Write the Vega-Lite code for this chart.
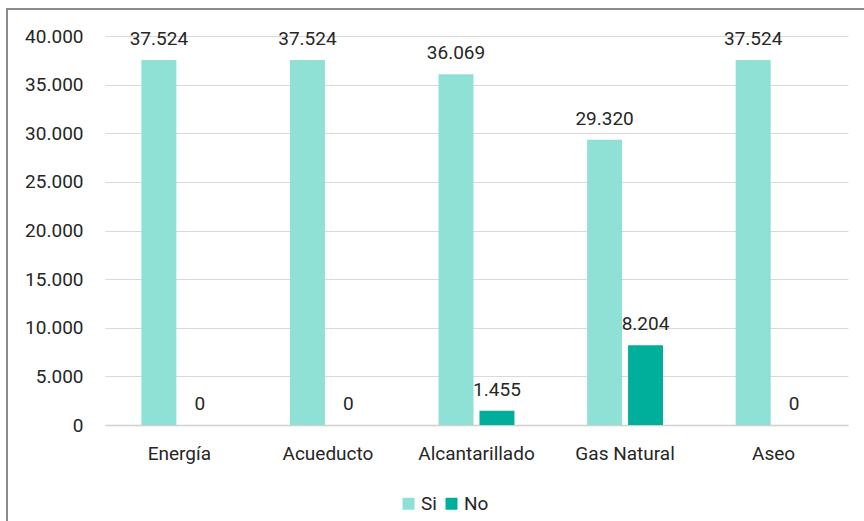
{
  "$schema": "https://vega.github.io/schema/vega-lite/v6.json",
  "width": 743,
  "height": 389,
  "autosize": "none",
  "padding": {"left": 105, "top": 36, "right": 16, "bottom": 96},
  "background": "white",
  "config": {
    "locale": {"number": {"decimal": ",", "thousands": ".", "grouping": [3], "currency": ["$", ""]}},
    "view": {"stroke": null},
    "font": "Roboto"
  },
  "datasets": {
    "servicios": [
      {"servicio": "Energía", "respuesta": "Si", "viviendas": 37524},
      {"servicio": "Energía", "respuesta": "No", "viviendas": 0},
      {"servicio": "Acueducto", "respuesta": "Si", "viviendas": 37524},
      {"servicio": "Acueducto", "respuesta": "No", "viviendas": 0},
      {"servicio": "Alcantarillado", "respuesta": "Si", "viviendas": 36069},
      {"servicio": "Alcantarillado", "respuesta": "No", "viviendas": 1455},
      {"servicio": "Gas Natural", "respuesta": "Si", "viviendas": 29320},
      {"servicio": "Gas Natural", "respuesta": "No", "viviendas": 8204},
      {"servicio": "Aseo", "respuesta": "Si", "viviendas": 37524},
      {"servicio": "Aseo", "respuesta": "No", "viviendas": 0}
    ]
  },
  "layer": [
    {
      "data": {"values": [{"frame": 1}]},
      "mark": {"type": "rect", "fill": null, "stroke": "#8c8c8c", "strokeWidth": 2},
      "encoding": {
        "x": {"value": -98},
        "x2": {"value": 780},
        "y": {"value": -27},
        "y2": {"value": 500}
      }
    },
    {
      "data": {"name": "servicios"},
      "encoding": {
        "x": {
          "field": "servicio",
          "type": "nominal",
          "sort": ["Energía", "Acueducto", "Alcantarillado", "Gas Natural", "Aseo"],
          "scale": {"paddingInner": 0.489, "paddingOuter": 0.245},
          "axis": {
            "title": null,
            "labelAngle": 0,
            "labelFontSize": 19,
            "labelColor": "#262626",
            "labelPadding": 19,
            "ticks": false,
            "domainColor": "#d0d0d0",
            "domainWidth": 1.5
          }
        },
        "xOffset": {
          "field": "respuesta",
          "type": "nominal",
          "sort": ["Si", "No"],
          "scale": {"paddingInner": 0.146, "paddingOuter": 0}
        },
        "y": {
          "field": "viviendas",
          "type": "quantitative",
          "scale": {"domain": [0, 40000], "nice": false},
          "axis": {
            "title": null,
            "values": [0, 5000, 10000, 15000, 20000, 25000, 30000, 35000, 40000],
            "format": ",d",
            "labelFontSize": 19,
            "labelColor": "#262626",
            "labelPadding": 22,
            "ticks": false,
            "domain": false,
            "gridColor": "#d9d9d9",
            "gridWidth": 1.2
          }
        }
      },
      "layer": [
        {
          "mark": {"type": "bar"},
          "encoding": {
            "color": {
              "field": "respuesta",
              "type": "nominal",
              "sort": ["Si", "No"],
              "scale": {"domain": ["Si", "No"], "range": ["#8fe0d5", "#00af9b"]},
              "legend": {
                "title": null,
                "orient": "none",
                "direction": "horizontal",
                "legendX": 294,
                "legendY": 458,
                "symbolType": "square",
                "symbolSize": 144,
                "symbolStrokeWidth": 0,
                "labelFontSize": 19,
                "labelColor": "#262626",
                "labelOffset": 3,
                "columnPadding": 5
              }
            }
          }
        },
        {
          "mark": {"type": "text", "baseline": "alphabetic", "dy": -15, "fontSize": 19, "color": "#262626"},
          "encoding": {
            "text": {"field": "viviendas", "type": "quantitative", "format": ",d"}
          }
        }
      ]
    }
  ]
}
